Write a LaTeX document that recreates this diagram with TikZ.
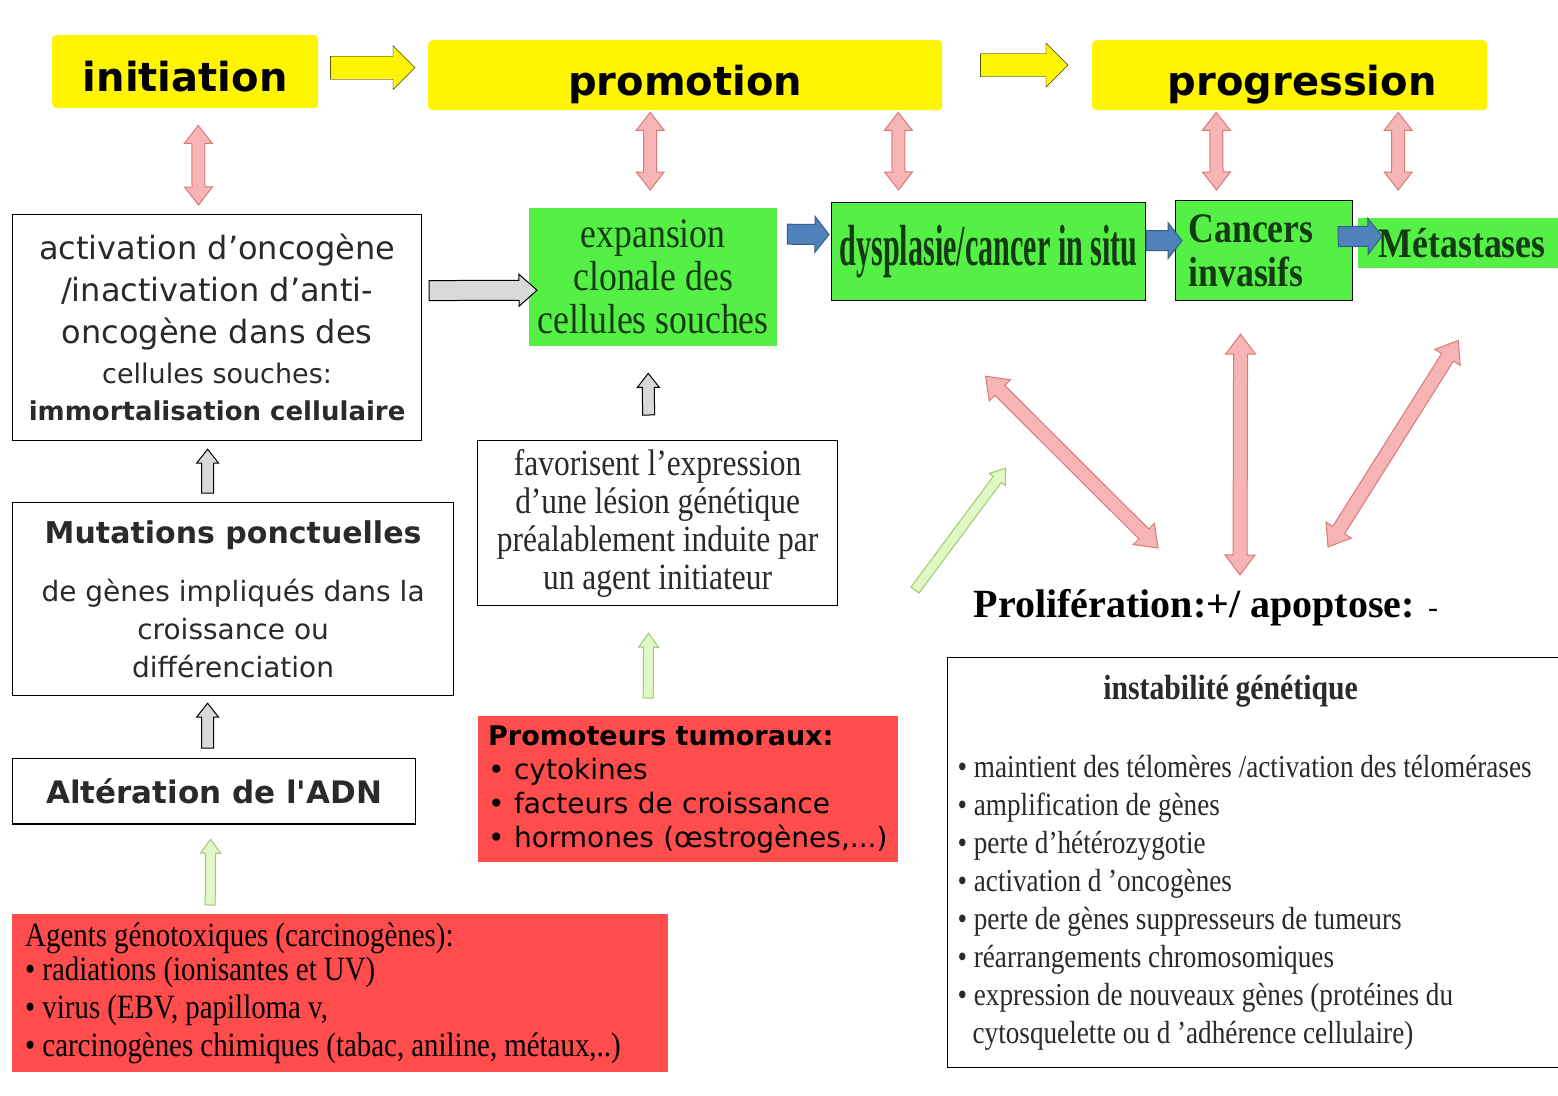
\documentclass[tikz,border=0pt]{standalone}
\usepackage{fontspec}
\setmainfont{Liberation Serif}
\newfontfamily\comic{DejaVu Sans}
\newfontfamily\cond[FakeStretch=0.85]{Liberation Serif}
\newfontfamily\ncond[FakeStretch=0.52]{Liberation Serif}
\usetikzlibrary{calc}
\newcommand\fsz[2]{\fontsize{#1}{#2}\selectfont}
\newcommand\tsp{\spaceskip=.21em plus .05em\relax}
\newcommand\lowered[2]{\raisebox{-#1}[\height][\depth]{#2}}
\definecolor{yel}{HTML}{FFF500}
\definecolor{grn}{HTML}{55F046}
\definecolor{rd}{HTML}{FF4D4D}
\definecolor{pinkf}{HTML}{F7B4B4}
\definecolor{pinkd}{HTML}{D87A7A}
\definecolor{bluef}{HTML}{4F81BD}
\definecolor{blued}{HTML}{385D8A}
\definecolor{lgf}{HTML}{E2F7C6}
\definecolor{lgd}{HTML}{9CCB6A}
\definecolor{grayf}{HTML}{D9D9D9}
\definecolor{dgt}{HTML}{143A14}
\definecolor{txtg}{HTML}{2A2A2A}
\tikzset{
  fatdbl/.style n args={3}{to path={let \p1=(\tikztostart), \p2=(\tikztotarget),
     \n1={atan2(\y2-\y1,\x2-\x1)}, \n2={veclen(\x2-\x1,\y2-\y1)-#3} in
     (\p1) -- ($(\p1)+(\n1:#3pt)+(\n1+90:#2pt)$) -- ($(\p1)+(\n1:#3pt)+(\n1+90:#1pt)$)
     -- ($(\p1)+(\n1:\n2)+(\n1+90:#1pt)$) -- ($(\p1)+(\n1:\n2)+(\n1+90:#2pt)$)
     -- (\p2) -- ($(\p1)+(\n1:\n2)+(\n1-90:#2pt)$) -- ($(\p1)+(\n1:\n2)+(\n1-90:#1pt)$)
     -- ($(\p1)+(\n1:#3pt)+(\n1-90:#1pt)$) -- ($(\p1)+(\n1:#3pt)+(\n1-90:#2pt)$) -- cycle}},
  fatone/.style n args={3}{to path={let \p1=(\tikztostart), \p2=(\tikztotarget),
     \n1={atan2(\y2-\y1,\x2-\x1)}, \n2={veclen(\x2-\x1,\y2-\y1)-#3} in
     ($(\p1)+(\n1+90:#1pt)$) -- ($(\p1)+(\n1:\n2)+(\n1+90:#1pt)$) -- ($(\p1)+(\n1:\n2)+(\n1+90:#2pt)$)
     -- (\p2) -- ($(\p1)+(\n1:\n2)+(\n1-90:#2pt)$) -- ($(\p1)+(\n1:\n2)+(\n1-90:#1pt)$)
     -- ($(\p1)+(\n1-90:#1pt)$) -- cycle}},
  pinkarr/.style={fatdbl={6.5}{14}{18}, fill=pinkf, draw=pinkd, line width=1},
  pinkdiag/.style={fatdbl={7}{15}{20}, fill=pinkf, draw=pinkd, line width=1},
  yelarr/.style={fatone={11.5}{22}{22}, fill=yel},
  grayarr/.style={fatone={10}{16}{18}, fill=grayf, draw=black, line width=1},
  grayup/.style={fatone={6}{11}{14}, fill=grayf, draw=black, line width=1},
  bluearr/.style={fatone={10}{18}{14}, fill=bluef, draw=blued, line width=1},
  greenarr/.style={fatone={5}{10}{14}, fill=lgf, draw=lgd, line width=1},
  ybox/.style={anchor=north west, fill=yel, rounded corners=4, inner sep=0, font=\comic\bfseries\fsz{40}{44}},
  gbox/.style={anchor=north west, fill=grn, inner sep=0, align=center, text=dgt},
  wbox/.style={anchor=north west, fill=white, draw=black, line width=1.2, inner sep=0, align=center, text=txtg},
  rbox/.style={anchor=north west, fill=rd, inner sep=0, text=black},
}
\begin{document}
\begin{tikzpicture}[x=1pt,y=-1pt]
\useasboundingbox (0,0) rectangle (1558,1095);
\clip (0,0) rectangle (1558,1095);
\fill[white] (0,0) rectangle (1558,1095);

% top stages
\node[ybox, minimum width=266, minimum height=73] (init) at (52,35) {\lowered{5pt}{initiation}};
\node[ybox, minimum width=514, minimum height=70] (prom) at (428,40) {\lowered{9pt}{promotion}};
\node[ybox, minimum width=395, minimum height=70] (prog) at (1092,40) {\hspace*{25pt}\lowered{9pt}{progression}};

% left column
\node[wbox, minimum width=409, minimum height=226, font=\comic\fsz{32}{42}] (act) at (12,214)
  {activation d’oncogène\\/inactivation d’anti-\\oncogène dans des\\[-2pt]\fsz{27}{41}cellules souches:\\[-5pt]\bfseries\fsz{26}{37}immortalisation cellulaire};
\node[wbox, minimum width=441, minimum height=193, font=\comic\fsz{28}{38}] (mut) at (12,502)
  {\bfseries\fsz{30}{38}Mutations ponctuelles\\[20pt]de gènes impliqués dans la\\croissance ou\\différenciation};
\node[wbox, minimum width=403, minimum height=65, font=\comic\bfseries\fsz{31}{34}] (alt) at (12,758) {Altération de l'ADN};
\draw[line width=2.5] (alt.south west) -- (alt.south east);
\node[rbox, text width=630, inner xsep=13, minimum height=158, align=left, font=\cond\fsz{34}{38}] (agents) at (12,914)
  {\tsp Agents génotoxiques (carcinogènes):\\[-4pt]• radiations (ionisantes et UV)\\• virus (EBV, papilloma v,\\• carcinogènes chimiques (tabac, aniline, métaux,..)};

% middle column
\node[gbox, minimum width=248, minimum height=138, font=\cond\fsz{42}{43}] (expa) at (529,208) {expansion\\clonale des\\cellules souches};
\node[wbox, minimum width=360, minimum height=165, font=\cond\fsz{37}{38}] (fav) at (477,440)
  {favorisent l’expression\\d’une lésion génétique\\préalablement induite par\\un agent initiateur};
\node[rbox, text width=400, inner xsep=10, minimum height=146, align=left, font=\comic\fsz{28}{34}] (promot) at (478,716)
  {{\bfseries\fsz{27}{34}Promoteurs tumoraux:}\\• cytokines\\• facteurs de croissance\\• hormones (œstrogènes,...)};

% right part
\node[gbox, draw=black, line width=1.2, minimum width=314, minimum height=98, font=\ncond\bfseries\fsz{58}{60}] (dys) at (831,202) {dysplasie/cancer in situ};
\node[gbox, draw=black, line width=1.2, text width=151, inner xsep=13, minimum height=100, align=left, font=\cond\bfseries\fsz{42}{44}] (canc) at (1175,200) {Cancers\\invasifs};
\node[gbox, minimum width=200, minimum height=50, font=\cond\bfseries\fsz{42}{42}] (meta) at (1358,218) {\hspace*{8pt}Métastases};
\node[font=\bfseries\fsz{40}{44}, inner sep=0] (prolif) at (1206,608) {Prolifération:+/ apoptose: {\mdseries\fsz{30}{30}-}};
\node[wbox, text width=595, inner xsep=10, minimum height=410, align=left, font=\cond\fsz{32}{38}] (inst) at (947,657)
  {\tsp\makebox[546pt][c]{\bfseries\fsz{35}{38}instabilité génétique}\\[40pt]
   • maintient des télomères /activation des télomérases\\
   • amplification de gènes\\
   • perte d’hétérozygotie\\
   • activation d ’oncogènes\\
   • perte de gènes suppresseurs de tumeurs\\
   • réarrangements chromosomiques\\
   • expression de nouveaux gènes (protéines du\\
   \hspace*{15pt}cytosquelette ou d ’adhérence cellulaire)};

% stage arrows
\draw[yelarr] ($(init.east)+(12,-4)$) to ($(init.east -| prom.west)+(-13,-4)$);
\draw[yelarr] ($(prom.east)+(38,-10)$) to ($(prom.east -| prog.west)+(-24,-10)$);

% pink double arrows
\draw[pinkarr] ($(init.south)+(13,17)$) to ($(act.north)+(-18.5,-9)$);
\draw[pinkarr] ($(prom.south)+(-35,2)$) to ($(expa.north)+(-3,-18)$);
\draw[pinkarr] ($(prom.south)+(213,2)$) to ($(dys.north)+(-90,-12)$);
\draw[pinkarr] ($(prog.south)+(-73.5,2)$) to ($(canc.north)+(-47.5,-10)$);
\draw[pinkarr] ($(prog.south)+(108.5,2)$) to ($(meta.north)+(-60,-28)$);
\draw[pinkdiag] ($(dys.south)+(-3,75)$) to ($(prolif.center)+(-48,-60)$);
\draw[pinkdiag] ($(canc.south)+(-23.5,33)$) to ($(prolif.center)+(34,-33)$);
\draw[pinkdiag] ($(meta.south)+(0,72)$) to ($(prolif.center)+(122,-61)$);

% gray arrows
\draw[grayarr] ($(act.east)+(7,-37)$) to ($(expa.west)+(8,13)$);
\draw[grayup] ($(fav.north)+(-9,-25)$) to ($(expa.south)+(-5,27)$);
\draw[grayup] ($(mut.north)+(-25.5,-9)$) to ($(act.south)+(-9.5,8)$);
\draw[grayup] ($(alt.north)+(-6.5,-10)$) to ($(mut.south)+(-25.5,7)$);

% green arrows
\draw[greenarr] ($(agents.north)+(-130,-9)$) to ($(alt.south)+(-3.5,15)$);
\draw[greenarr] ($(promot.north)+(-40,-18)$) to ($(fav.south)+(-9,27)$);
\draw[greenarr] ($(prolif.center)+(-291,-18)$) to ($(dys.south)+(17,167)$);

% blue arrows
\draw[bluearr] ($(expa.east)+(10,-43)$) to ($(dys.west)+(-2,-17)$);
\draw[bluearr] ($(dys.east)+(0,-11)$) to ($(canc.west)+(7,-10)$);
\draw[bluearr] ($(canc.east)+(-15,-14)$) to ($(meta.west)+(24,-7)$);
\end{tikzpicture}
\end{document}
